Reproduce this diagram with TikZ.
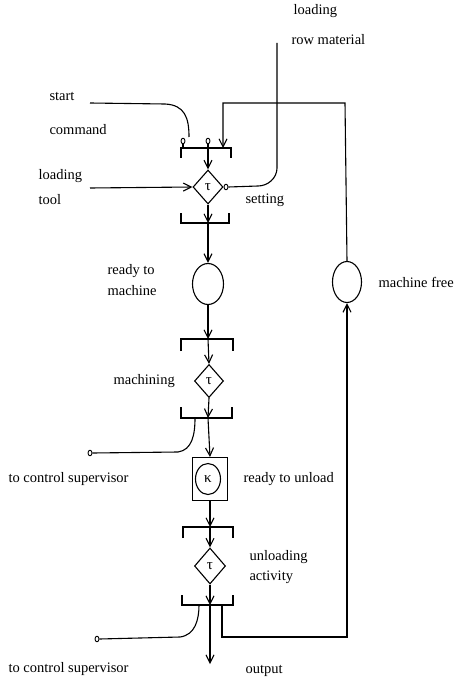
\documentclass[tikz,border=0pt]{standalone}
\usepackage{fontspec}
\setmainfont{Liberation Serif}
\usetikzlibrary{shapes.geometric,arrows.meta}
\begin{document}
\begin{tikzpicture}[x=1pt,y=-1pt,line width=1.1pt,
  lbl/.style={font=\fontsize{14.5}{17}\selectfont,inner sep=0pt,text height=10pt,text depth=3pt,anchor=west},
  trans/.style={draw,diamond,minimum width=30pt,minimum height=34pt,inner sep=0pt,font=\fontsize{15}{16}\selectfont},
  place/.style={draw,ellipse,minimum width=31pt,minimum height=41pt,inner sep=0pt},
  tip/.style={-{Straight Barb[length=8pt,width=8pt,line width=1.1pt]}},
  dot/.style={draw,ellipse,minimum width=4pt,minimum height=5.5pt,inner sep=0pt,line width=0.9pt},
  brk/.style={line width=1.1pt},
]
\useasboundingbox (0,0) rectangle (459,679);

% ---- nodes ----
\node[trans] (T1) at (208,187) {τ};
\node[place] (P1) at (208,284) {};
\node[trans,minimum width=29pt,minimum height=33pt] (T2) at (209,381) {τ};
\node[draw,rectangle,minimum width=35pt,minimum height=43pt,inner sep=0pt] (K) at (210,479) {};
\node[draw,ellipse,minimum width=25pt,minimum height=31pt,inner sep=0pt,font=\fontsize{15}{16}\selectfont] (Kc) at (208,479) {κ};
\node[trans,minimum width=31pt,minimum height=36pt] (T3) at (210,566) {τ};
\node[place,minimum width=29pt] (P2) at (347,282) {};

\node[dot] (d1) at (183,141) {};
\node[dot] (d2) at (208,141) {};
\node[dot,anchor=west] (d3) at (T1.east) {};
\node[dot] (d4) at (90,453) {};
\node[dot] (d5) at (97,639) {};

% ---- brackets ----
\draw[brk] (181,158) -- (181,148) -- (231,148) -- (231,158);
\draw[brk] (181,213) -- (181,223) -- (229,223) -- (229,213);
\draw[brk] (181,351) -- (181,339) -- (233,339) -- (233,351);
\draw[brk] (181,407) -- (181,418) -- (232,418) -- (232,407);
\draw[brk] (183,538) -- (183,527) -- (233,527) -- (233,538);
\draw[brk] (182,595) -- (182,605) -- (233,605) -- (233,595);

\coordinate (b1r) at (223,148);
\coordinate (b2) at (208,223);
\coordinate (b3) at (208,339);
\coordinate (b4) at (208,418);
\coordinate (b4l) at (195,418);
\coordinate (b5) at (210,527);
\coordinate (b6) at (210,605);
\coordinate (b6l) at (199,605);
\coordinate (b6r) at (222,605);
\coordinate (out) at (210,664);
\coordinate (rm) at (277,43);
\coordinate (lt) at (90,188);
\coordinate (sc) at (90,103);

% ---- connectors ----
\draw (d1.south) -- (183,148);
\draw[tip] (d2.south) -- (T1.north);
\draw[tip] (T1.south) -- (b2);
\draw[tip] (b2) -- (P1.north);
\draw[tip] (P1.south) -- (b3);
\draw[tip] (b3) -- (T2.north);
\draw[tip] (T2.south) -- (b4);
\draw[tip] (b4) -- (210,457);
\draw[tip] (K.south) -- (b5);
\draw[tip] (b5) -- (T3.north);
\draw[tip] (T3.south) -- (b6);
\draw[tip] (b6) -- (out);

\draw[tip] (lt) -- (T1.west);
\draw (sc) -- (165,104) .. controls (185,105) and (189,118) .. (189,137);
\draw (rm) -- (277,168) .. controls (277,178) and (268,186) .. (258,186) -- (d3.east);
\draw[tip] (P2.north) -- (345,103) -| (b1r);
\draw[tip] (b6r) -- (222,637) -| (P2.south);
\draw (d4.east) -- (178,452) .. controls (192,450) and (195,435) .. (b4l);
\draw (d5.east) -- (180,637) .. controls (195,635) and (199,620) .. (b6l);

% ---- labels ----
\node[lbl] (l1) at (293,11.5) {loading};
\node[lbl] (l2) at (291,41.5) {row material};
\node[lbl] (l3) at (49,97.5) {start};
\node[lbl] (l4) at (49,131.5) {command};
\node[lbl] (l5) at (38,175.5) {loading};
\node[lbl] (l6) at (38,200.5) {tool};
\node[lbl] (l7) at (245,200) {setting};
\node[lbl] (l8) at (107,270.5) {ready to};
\node[lbl] (l9) at (107,291.5) {machine};
\node[lbl] (l10) at (113,380.5) {machining};
\node[lbl] (l11) at (378,283.5) {machine free};
\node[lbl] (l12) at (8,478.5) {to control supervisor};
\node[lbl] (l13) at (243,478.5) {ready to unload};
\node[lbl] (l14) at (249,556.5) {unloading};
\node[lbl] (l15) at (249,576.5) {activity};
\node[lbl] (l16) at (8,668.5) {to control supervisor};
\node[lbl] (l17) at (245,670) {output};
\end{tikzpicture}
\end{document}
